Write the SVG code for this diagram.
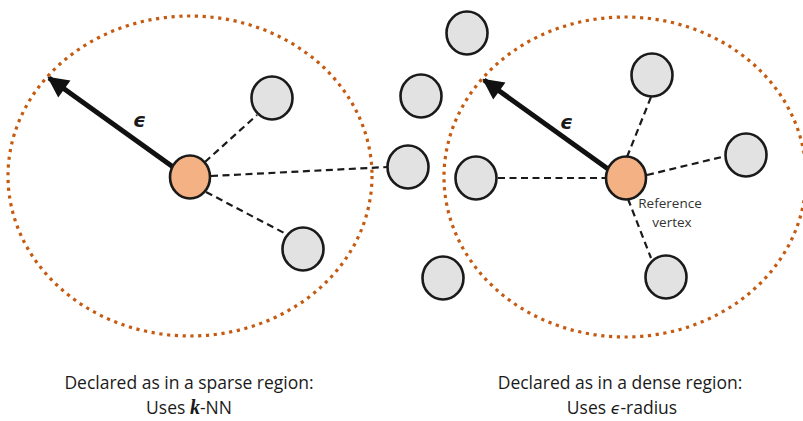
<svg xmlns="http://www.w3.org/2000/svg" width="803" height="421" viewBox="0 0 803 421">
<defs>
<style>
.region{fill:none;stroke:#C55A11;stroke-width:3.2;stroke-dasharray:3.2 4.6}
.node{fill:#E2E2E2;stroke:#1a1a1a;stroke-width:2.6}
.ref{fill:#F4B183;stroke:#1a1a1a;stroke-width:2.6}
.edge{stroke:#1a1a1a;stroke-width:2.2;stroke-dasharray:7 4.5;fill:none}
.radius{stroke:#111;stroke-width:5;fill:none}
.eps{font-family:"DejaVu Sans",sans-serif;font-style:italic;font-weight:bold;font-size:20px;fill:#1a1a1a}
.cap{font-family:"Open Sans","Noto Sans",sans-serif;font-size:17.5px;fill:#1a1a1a;text-anchor:middle}
.small{font-family:"Open Sans","Noto Sans",sans-serif;font-size:13.5px;fill:#333;text-anchor:middle}
</style>
<marker id="arrow" viewBox="0 0 10 10" refX="9" refY="5" markerWidth="4.4" markerHeight="4.2" markerUnits="strokeWidth" orient="auto">
<path d="M0,0 L10,5 L0,10 z" fill="#111"/>
</marker>
</defs>
<g id="regions">
<ellipse class="region" cx="190" cy="176" rx="182" ry="160"/>
<ellipse class="region" cx="625" cy="177" rx="181" ry="160"/>
</g>
<g id="connectors">
<line class="edge" x1="205" y1="162" x2="257" y2="115"/>
<line class="edge" x1="211" y1="176" x2="388" y2="167"/>
<line class="edge" x1="206" y1="192" x2="288" y2="235"/>
<line class="edge" x1="498" y1="178" x2="605" y2="178"/>
<line class="edge" x1="627" y1="157" x2="651" y2="97"/>
<line class="edge" x1="647" y1="175" x2="726" y2="156"/>
<line class="edge" x1="628" y1="199" x2="651" y2="258"/>
<line class="radius" x1="187" y1="177" x2="49" y2="78" marker-end="url(#arrow)"/>
<line class="radius" x1="622" y1="179" x2="484" y2="80" marker-end="url(#arrow)"/>
</g>
<g id="left-ref"><ellipse class="ref" cx="190" cy="177" rx="20" ry="21.5"/></g>
<g id="left-n1"><ellipse class="node" cx="272" cy="98" rx="20.5" ry="21.5"/></g>
<g id="left-n2"><ellipse class="node" cx="303" cy="249" rx="20.5" ry="21.5"/></g>
<g id="mid-n1"><ellipse class="node" cx="408" cy="167" rx="20.5" ry="21.5"/></g>
<g id="mid-n2"><ellipse class="node" cx="467" cy="33" rx="20.5" ry="21.5"/></g>
<g id="mid-n3"><ellipse class="node" cx="421" cy="96" rx="20.5" ry="21.5"/></g>
<g id="mid-n4"><ellipse class="node" cx="443" cy="278" rx="20.5" ry="21.5"/></g>
<g id="right-n1"><ellipse class="node" cx="476" cy="178" rx="20.5" ry="21.5"/></g>
<g id="right-n2"><ellipse class="node" cx="652" cy="75" rx="20.5" ry="21.5"/></g>
<g id="right-n3"><ellipse class="node" cx="746" cy="155" rx="20.5" ry="21.5"/></g>
<g id="right-n4"><ellipse class="node" cx="666" cy="277" rx="20.5" ry="21.5"/></g>
<g id="right-ref"><ellipse class="ref" cx="626" cy="178" rx="20" ry="21.5"/>
<text class="small" x="670" y="208">Reference</text>
<text class="small" x="672" y="227">vertex</text>
</g>
<g id="labels">
<text class="eps" x="133" y="127">ϵ</text>
<text class="eps" x="560" y="129">ϵ</text>
<text class="cap" x="189" y="389">Declared as in a sparse region:</text>
<text class="cap" x="189" y="414">Uses <tspan font-family="Liberation Serif,serif" font-style="italic" font-weight="bold" font-size="20">k</tspan>-NN</text>
<text class="cap" x="620" y="389">Declared as in a dense region:</text>
<text class="cap" x="622" y="414">Uses <tspan font-family="DejaVu Sans,sans-serif" font-style="italic" font-size="16">ϵ</tspan>-radius</text>
</g>
</svg>
